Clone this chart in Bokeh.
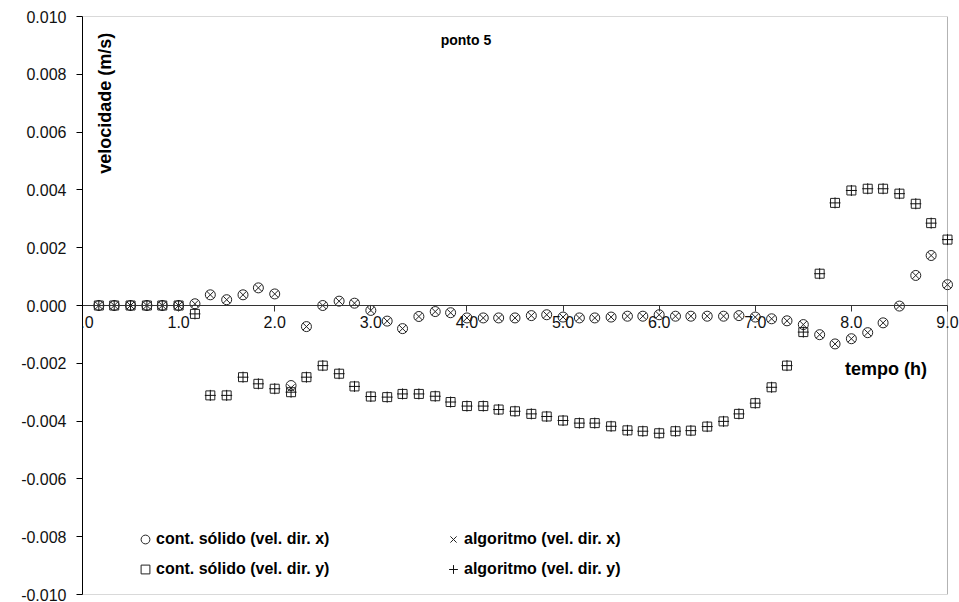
import math
from bokeh.plotting import figure
from bokeh.models import Range1d, FixedTicker, NumeralTickFormatter, Legend, LegendItem, Label, BoxAnnotation
from bokeh.embed import file_html
from bokeh.resources import INLINE

# time (h)
tempo = [0.17, 0.33, 0.50, 0.67, 0.83, 1.00, 1.17, 1.33, 1.50, 1.67, 1.83, 2.00,
         2.17, 2.33, 2.50, 2.67, 2.83, 3.00, 3.17, 3.33, 3.50, 3.67, 3.83, 4.00,
         4.17, 4.33, 4.50, 4.67, 4.83, 5.00, 5.17, 5.33, 5.50, 5.67, 5.83, 6.00,
         6.17, 6.33, 6.50, 6.67, 6.83, 7.00, 7.17, 7.33, 7.50, 7.67, 7.83, 8.00,
         8.17, 8.33, 8.50, 8.67, 8.83, 9.00]

# velocity, x direction (solid continuum)
vx_solido = [0.0, 0.0, 0.0, 0.0, 0.0, 0.0, 0.00006, 0.00037, 0.00020, 0.00037, 0.00061, 0.00040,
             -0.00277, -0.00073, 0.0, 0.00015, 0.00008, -0.00017, -0.00054, -0.00080, -0.00038, -0.00021, -0.00025, -0.00043,
             -0.00043, -0.00043, -0.00043, -0.00035, -0.00032, -0.00040, -0.00043, -0.00043, -0.00040, -0.00037, -0.00037, -0.00032,
             -0.00037, -0.00037, -0.00037, -0.00037, -0.00035, -0.00040, -0.00046, -0.00053, -0.00066, -0.00101, -0.00133, -0.00115,
             -0.00094, -0.00060, -0.00002, 0.00104, 0.00173, 0.00072]
# velocity, x direction (algorithm)
vx_algoritmo = [0.0, 0.0, 0.0, 0.0, 0.0, 0.0, 0.00006, 0.00037, 0.00020, 0.00037, 0.00061, 0.00040,
                -0.00285, -0.00073, 0.0, 0.00015, 0.00008, -0.00017, -0.00054, -0.00080, -0.00038, -0.00021, -0.00025, -0.00043,
                -0.00043, -0.00043, -0.00043, -0.00035, -0.00032, -0.00040, -0.00043, -0.00043, -0.00040, -0.00037, -0.00037, -0.00032,
                -0.00037, -0.00037, -0.00037, -0.00037, -0.00035, -0.00040, -0.00046, -0.00053, -0.00066, -0.00101, -0.00133, -0.00115,
                -0.00094, -0.00060, -0.00002, 0.00104, 0.00173, 0.00072]
# velocity, y direction (solid continuum)
vy_solido = [0.0, 0.0, 0.0, 0.0, 0.0, 0.0, -0.00029, -0.00311, -0.00311, -0.00248, -0.00271, -0.00288,
             -0.00300, -0.00248, -0.00208, -0.00236, -0.00280, -0.00315, -0.00317, -0.00306, -0.00306, -0.00314, -0.00334, -0.00348,
             -0.00348, -0.00360, -0.00366, -0.00375, -0.00384, -0.00398, -0.00407, -0.00407, -0.00418, -0.00432, -0.00435, -0.00442,
             -0.00435, -0.00433, -0.00419, -0.00401, -0.00375, -0.00338, -0.00283, -0.00208, -0.00092, 0.00110, 0.00355, 0.00398,
             0.00404, 0.00404, 0.00387, 0.00352, 0.00285, 0.00228]
# velocity, y direction (algorithm)
vy_algoritmo = [0.0, 0.0, 0.0, 0.0, 0.0, 0.0, -0.00029, -0.00311, -0.00311, -0.00248, -0.00271, -0.00288,
                -0.00300, -0.00248, -0.00208, -0.00236, -0.00280, -0.00315, -0.00317, -0.00306, -0.00306, -0.00314, -0.00334, -0.00348,
                -0.00348, -0.00360, -0.00366, -0.00375, -0.00384, -0.00398, -0.00407, -0.00407, -0.00418, -0.00432, -0.00435, -0.00442,
                -0.00435, -0.00433, -0.00419, -0.00401, -0.00375, -0.00338, -0.00283, -0.00208, -0.00092, 0.00110, 0.00355, 0.00398,
                0.00404, 0.00404, 0.00387, 0.00352, 0.00285, 0.00228]

x_ticks = [0, 1, 2, 3, 4, 5, 6, 7, 8, 9]
y_ticks = [-0.010, -0.008, -0.006, -0.004, -0.002, 0.0, 0.002, 0.004, 0.006, 0.008, 0.010]

FONT = "Liberation Sans"
INK = "#111111"

# x range runs a little past 9 so the "9.0" label and the last markers are not clipped;
# the chart box itself is drawn from 0 to 9.
p = figure(width=959, height=602, output_backend="svg", toolbar_location=None,
           x_range=Range1d(0, 9.125), y_range=Range1d(-0.010, 0.010),
           min_border_left=82, min_border_right=0, min_border_top=16, min_border_bottom=8)
p.background_fill_color = "white"
p.border_fill_color = "white"
p.outline_line_color = None
p.grid.visible = False

p.add_layout(BoxAnnotation(left=0, right=9, bottom=-0.010, top=0.010, fill_alpha=0,
                           line_color="black", line_width=1, level="underlay"))

# x axis crossing at y = 0
xa = p.xaxis[0]
xa.fixed_location = 0
xa.bounds = (0, 9)
xa.ticker = FixedTicker(ticks=x_ticks)
xa.formatter = NumeralTickFormatter(format="0.0")
xa.axis_line_color = "#333333"
xa.major_tick_line_color = "#333333"
xa.major_tick_in = 0
xa.major_tick_out = 6
xa.minor_tick_line_color = None
xa.major_label_standoff = 4
xa.major_label_text_font = FONT
xa.major_label_text_font_size = "16px"
xa.major_label_text_color = INK

ya = p.yaxis[0]
ya.ticker = FixedTicker(ticks=y_ticks)
ya.formatter = NumeralTickFormatter(format="0.000")
ya.axis_line_color = "black"
ya.major_tick_line_color = "black"
ya.major_tick_in = 0
ya.major_tick_out = 6
ya.minor_tick_line_color = None
ya.major_label_standoff = 10
ya.major_label_text_font = FONT
ya.major_label_text_font_size = "16px"
ya.major_label_text_color = INK

r_cx = p.scatter(tempo, vx_solido, marker="circle", size=10, fill_color=None, line_color="#222222", line_width=1)
r_cy = p.scatter(tempo, vy_solido, marker="square", size=9, fill_color=None, line_color="#222222", line_width=1)
r_ax = p.scatter(tempo, vx_algoritmo, marker="x", size=10, line_color="#222222", line_width=1)
r_ay = p.scatter(tempo, vy_algoritmo, marker="cross", size=11, line_color="#111111", line_width=1)

def make_legend(items, loc):
    return Legend(items=items, location=loc, orientation="vertical",
                  background_fill_alpha=0, border_line_color=None,
                  padding=0, margin=0, spacing=8, glyph_height=22, glyph_width=22,
                  label_standoff=0, label_text_font=FONT, label_text_font_style="bold",
                  label_text_font_size="16px", label_text_color="black",
                  label_height=18)

leg1 = make_legend([LegendItem(label="cont. sólido (vel. dir. x)", renderers=[r_cx]),
                    LegendItem(label="cont. sólido (vel. dir. y)", renderers=[r_cy])], (52, 14))
leg2 = make_legend([LegendItem(label="algoritmo (vel. dir. x)", renderers=[r_ax]),
                    LegendItem(label="algoritmo (vel. dir. y)", renderers=[r_ay])], (360, 14))
p.add_layout(leg1, "center")
p.add_layout(leg2, "center")

p.add_layout(Label(x=3.99, y=0.00917, text="ponto 5", text_align="center", text_baseline="middle",
                   text_font=FONT, text_font_style="bold", text_font_size="14px", text_color="black"))
p.add_layout(Label(x=0.23, y=0.0070, text="velocidade (m/s)", angle=math.pi / 2,
                   text_align="center", text_baseline="middle",
                   text_font=FONT, text_font_style="bold", text_font_size="18px", text_color="black"))
p.add_layout(Label(x=8.36, y=-0.00218, text="tempo (h)", text_align="center", text_baseline="middle",
                   text_font=FONT, text_font_style="bold", text_font_size="18px", text_color="black"))

open("out.html", "w").write(file_html(p, INLINE))
